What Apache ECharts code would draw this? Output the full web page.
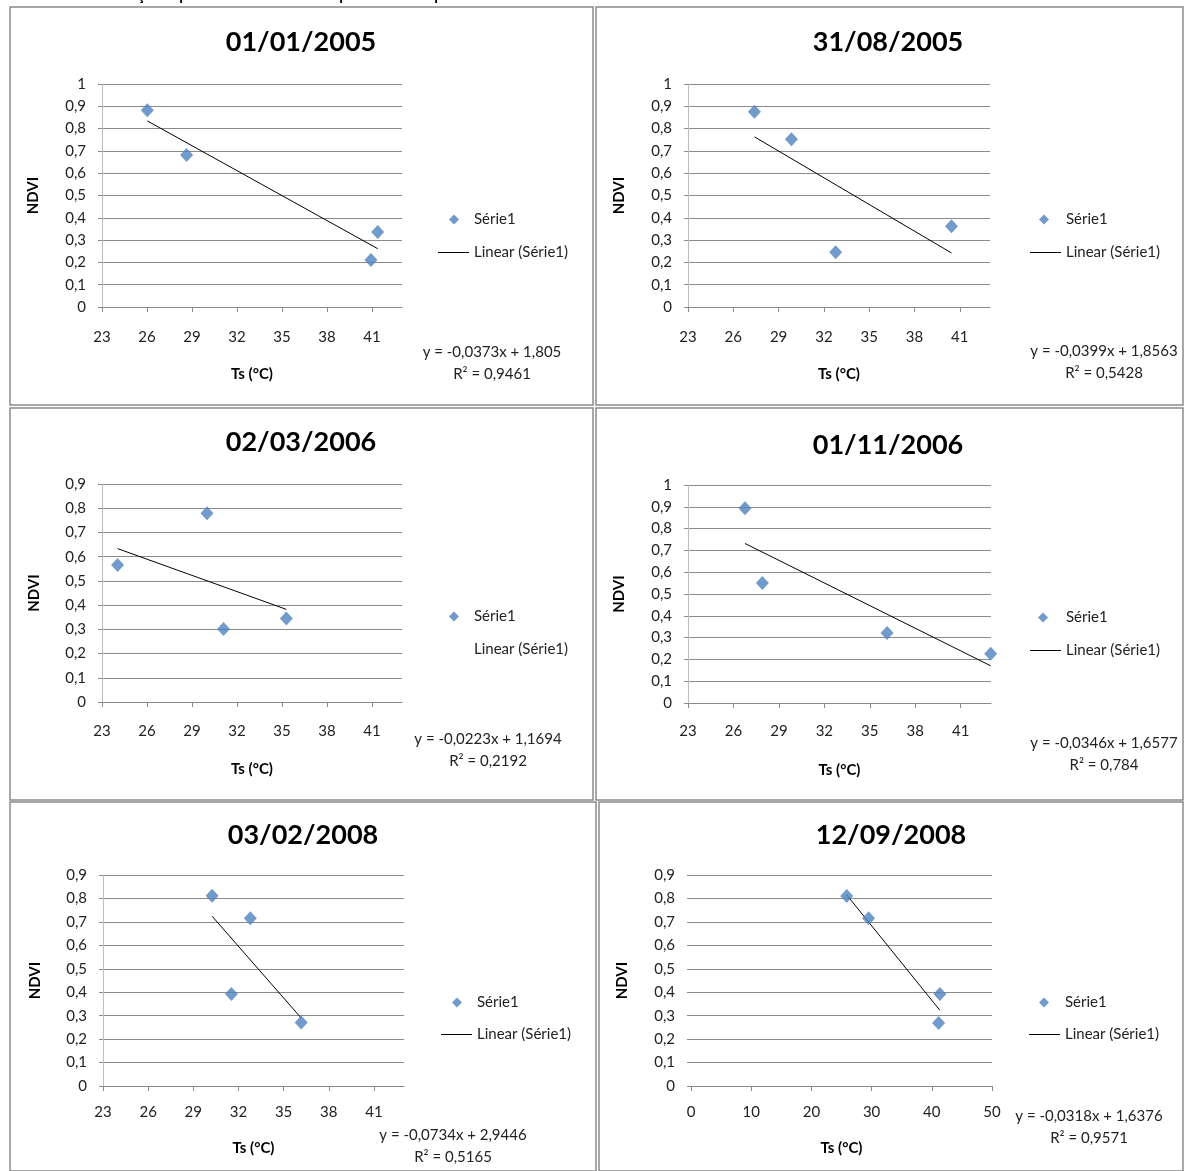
<!DOCTYPE html>
<html><head><meta charset="utf-8">
<script src="https://cdn.jsdelivr.net/npm/echarts@6/dist/echarts.min.js"></script>
<style>html,body{margin:0;padding:0;background:#fff}#c{width:1186px;height:1171px}</style>
</head><body><div id="c"></div>
<script>
// ---- data ----
const titles = ['01/01/2005', '31/08/2005', '02/03/2006', '01/11/2006', '03/02/2008', '12/09/2008'];
const ts1 = [26.02, 28.64, 40.93, 41.38];
const ndvi1 = [0.882, 0.682, 0.211, 0.336];
const ts2 = [27.40, 29.85, 32.78, 40.45];
const ndvi2 = [0.876, 0.752, 0.246, 0.362];
const ts3 = [24.04, 30.00, 31.10, 35.29];
const ndvi3 = [0.566, 0.779, 0.301, 0.345];
const ts4 = [26.76, 27.91, 36.14, 42.98];
const ndvi4 = [0.893, 0.550, 0.321, 0.226];
const ts5 = [30.25, 32.79, 31.53, 36.17];
const ndvi5 = [0.812, 0.715, 0.392, 0.271];
const ts6 = [25.87, 29.50, 41.34, 41.13];
const ndvi6 = [0.810, 0.715, 0.392, 0.269];
const slopes = [-0.0373, -0.0399, -0.0223, -0.0346, -0.0734, -0.0318];
const intercepts = [1.805, 1.8563, 1.1694, 1.6577, 2.9446, 1.6376];
const r2 = ['0,9461', '0,5428', '0,2192', '0,784', '0,5165', '0,9571'];
const xMin = [23, 23, 23, 23, 23, 0];
const xMax = [43, 43, 43, 43, 43, 50];
const xStep = [3, 3, 3, 3, 3, 10];
const yMax = [1, 1, 0.9, 1, 0.9, 0.9];
const seriesName = 'Série1';
const trendName = 'Linear (Série1)';
const xName = 'Ts (°C)';
const yName = 'NDVI';
const headerText = 'Gráfico 3 – Correlação espacial entre NDVI e temperatura da superfície';

const tsAll = [ts1, ts2, ts3, ts4, ts5, ts6];
const ndviAll = [ndvi1, ndvi2, ndvi3, ndvi4, ndvi5, ndvi6];

// ---- layout (legend: diamond cx, diamond cy, line left, line y) ----
const layout = [
  {grid: [102, 84, 300, 223], title: [301, 42], legend: [454, 218, 438, 251], eq: [492, 352], box: [10, 7, 583, 398], yGap: 61, xGap: 60, xMargin: 23, yLine: true, legLine: true},
  {grid: [688, 84, 302, 223], title: [888, 42], legend: [1044, 218, 1030, 251], eq: [1104, 351], box: [596, 7, 587, 398], yGap: 61, xGap: 60, xMargin: 23, yLine: true, legLine: true},
  {grid: [102, 484, 300, 218], title: [301, 442], legend: [454, 615, 438, 648], eq: [488, 739], box: [10, 408, 583, 392], yGap: 60, xGap: 60, xMargin: 22, yLine: true, legLine: false},
  {grid: [688, 485, 303, 218], title: [888, 445], legend: [1043, 616, 1030, 649], eq: [1104, 743], box: [596, 408, 587, 392], yGap: 61, xGap: 60, xMargin: 21, yLine: true, legLine: true},
  {grid: [103, 875, 301, 211], title: [303, 835], legend: [457, 1001, 441, 1033], eq: [453, 1135], box: [10, 802, 586, 369], yGap: 60, xGap: 55, xMargin: 19, yLine: true, legLine: true},
  {grid: [691, 875, 301, 211], title: [891, 835], legend: [1044, 1001, 1029, 1033], eq: [1089, 1116], box: [599, 802, 584, 369], yGap: 61, xGap: 55, xMargin: 19, yLine: false, legLine: true}
];

const FONT = 'Lato, "Open Sans", sans-serif';
const fmt = v => String(v).replace('.', ',');
const fmtAxis = v => String(Math.round(v * 10) / 10).replace('.', ',');

const grid = [], xAxis = [], yAxis = [], series = [], legend = [], graphic = [];

graphic.push({type: 'text', left: 12, top: -12, style: {text: headerText, font: 'bold 15px ' + FONT, fill: '#000'}});

layout.forEach((L, i) => {
  graphic.push({type: 'rect', shape: {x: L.box[0], y: L.box[1], width: L.box[2], height: L.box[3]},
    style: {fill: 'none', stroke: '#8a8a8a', lineWidth: 1.5}, silent: true, z: 0});
  graphic.push({type: 'text', x: L.title[0], y: L.title[1],
    style: {text: titles[i], font: 'bold 27px ' + FONT, fill: '#000', align: 'center', verticalAlign: 'middle'}});
  grid.push({left: L.grid[0], top: L.grid[1], width: L.grid[2], height: L.grid[3], containLabel: false});
  xAxis.push({type: 'value', gridIndex: i, min: xMin[i], max: xMax[i], interval: xStep[i],
    name: xName, nameLocation: 'middle', nameGap: L.xGap,
    nameTextStyle: {fontFamily: FONT, fontWeight: 'bold', fontSize: 15, color: '#000'},
    axisLine: {show: true, onZero: false, lineStyle: {color: '#8a8a8a', width: 1}},
    axisTick: {show: true, inside: false, length: 5, lineStyle: {color: '#8a8a8a'}},
    axisLabel: {fontFamily: FONT, fontSize: 15, color: '#222', margin: L.xMargin, showMaxLabel: xMax[i] % xStep[i] === (xMin[i] % xStep[i])},
    splitLine: {show: false}});
  yAxis.push({type: 'value', gridIndex: i, min: 0, max: yMax[i], interval: 0.1,
    name: yName, nameLocation: 'middle', nameGap: L.yGap, nameRotate: 90,
    nameTextStyle: {fontFamily: FONT, fontWeight: 'bold', fontSize: 15, color: '#000'},
    axisLine: {show: L.yLine, onZero: false, lineStyle: {color: '#bdbdbd', width: 1}},
    axisTick: {show: true, length: 4, lineStyle: {color: '#8a8a8a'}},
    axisLabel: {fontFamily: FONT, fontSize: 15, color: '#222', margin: 16, formatter: fmtAxis},
    splitLine: {show: true, lineStyle: {color: '#8a8a8a', width: 1}}});
  const pts = tsAll[i].map((x, k) => [x, ndviAll[i][k]]);
  series.push({type: 'scatter', name: seriesName, xAxisIndex: i, yAxisIndex: i, data: pts,
    symbol: 'diamond', symbolSize: [13, 14], itemStyle: {color: '#4F81BD'}, z: 3});
  const lo = Math.min(...tsAll[i]), hi = Math.max(...tsAll[i]);
  series.push({type: 'line', name: trendName, xAxisIndex: i, yAxisIndex: i,
    data: [[lo, slopes[i] * lo + intercepts[i]], [hi, slopes[i] * hi + intercepts[i]]],
    symbol: 'none', showSymbol: false, lineStyle: {color: '#000', width: 1}, itemStyle: {color: '#000'}, silent: true, z: 2});
  const [cx, cy, lx, ly] = L.legend;
  const textStart = lx + 36;
  // legend for the markers
  legend.push({left: cx - 5, top: cy - 6, padding: 0, orient: 'vertical', itemWidth: 10, itemHeight: 10,
    selectedMode: false,
    textStyle: {fontFamily: FONT, fontSize: 15, color: '#222', padding: [0, 0, 0, textStart - (cx - 5) - 15]},
    data: [{name: seriesName, icon: 'diamond', itemStyle: {color: '#4F81BD'}}]});
  // legend for the trend line
  legend.push({left: lx, top: ly - 6, padding: 0, orient: 'vertical', itemWidth: 31, itemHeight: 1,
    selectedMode: false,
    textStyle: {fontFamily: FONT, fontSize: 15, color: '#222'},
    data: [L.legLine ? {name: trendName, icon: 'rect', itemStyle: {color: '#000'}}
                     : {name: trendName, icon: 'rect', itemStyle: {color: '#000', opacity: 0}}]});
  const eqText = 'y = ' + fmt(slopes[i]) + 'x + ' + fmt(intercepts[i]);
  graphic.push({type: 'text', x: L.eq[0], y: L.eq[1], style: {text: eqText, font: '15px ' + FONT, fill: '#222', align: 'center', verticalAlign: 'middle'}});
  graphic.push({type: 'text', x: L.eq[0], y: L.eq[1] + 22, style: {text: 'R² = ' + r2[i], font: '15px ' + FONT, fill: '#222', align: 'center', verticalAlign: 'middle'}});
});

const chart = echarts.init(document.getElementById('c'), null, {renderer: 'canvas'});
chart.setOption({animation: false, backgroundColor: '#fff', grid, xAxis, yAxis, series, legend, graphic});
</script></body></html>
